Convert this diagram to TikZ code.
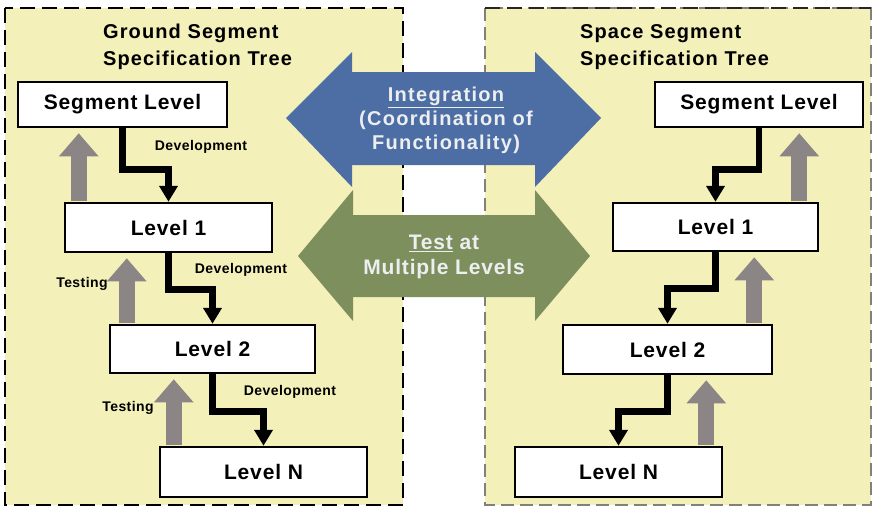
\documentclass[tikz,border=0pt]{standalone}
\usepackage{fontspec}
\setmainfont{Liberation Sans}
\usetikzlibrary{arrows.meta,calc}

\definecolor{panelfill}{RGB}{243,240,186}
\definecolor{intblue}{RGB}{77,110,165}
\definecolor{testgreen}{RGB}{125,143,92}
\definecolor{testgray}{RGB}{140,133,133}
\definecolor{arrowtext}{RGB}{236,238,240}
\definecolor{rightedge}{RGB}{130,128,120}

\tikzset{
  levelbox/.style={draw=black, line width=2.5pt, fill=white, inner sep=0pt,
    font=\bfseries\fontsize{21}{24}\selectfont\addfontfeatures{LetterSpace=4}},
  titletext/.style={align=left, anchor=west, inner sep=0pt,
    font=\bfseries\fontsize{20}{27}\selectfont\addfontfeatures{LetterSpace=5.5}},
  smalllabel/.style={inner sep=0pt,
    font=\bfseries\fontsize{14}{16}\selectfont\addfontfeatures{LetterSpace=3}},
  devarrow/.style={draw=black, line width=6.5pt, line join=miter,
    -{Triangle[width=18pt,length=16pt]}},
  testarrow/.style={draw=testgray, line width=16pt,
    -{Triangle[width=38pt,length=23pt]}, shorten >=5pt, shorten <=1.2pt},
  bigarrowtext/.style={align=center, text=arrowtext, inner sep=0pt},
}

\begin{document}
\begin{tikzpicture}[x=1pt,y=-1pt]
\useasboundingbox (0,0) rectangle (874,509);

% the two specification-tree panels
\fill[panelfill] (5,8) rectangle (403,505);
\draw[black, line width=2.8pt, dash pattern=on 15pt off 7pt] (5,8) rectangle (403,505);
\fill[panelfill] (485,8) rectangle (871,505);
\draw[rightedge, line width=1.6pt, dash pattern=on 13pt off 6pt] (485,8) rectangle (871,505);
\draw[black!85, line width=2.6pt, dash pattern=on 15pt off 7pt] (485,8) -- (871,8);

% integration double arrow
\fill[intblue] (286,118) -- (352,52) -- (352,72) -- (535,72) -- (535,52) -- (601,118)
  -- (535,187) -- (535,165) -- (352,165) -- (352,187) -- cycle;
\node[bigarrowtext, font=\bfseries\fontsize{20}{24}\selectfont\addfontfeatures{LetterSpace=6.5}]
  (integ) at (446,120) {\underline{Integration}\\(Coordination of\\Functionality)};

% test double arrow
\fill[testgreen] (298,256) -- (353,190) -- (353,215) -- (535,215) -- (535,190) -- (590,256)
  -- (535,321) -- (535,297) -- (353,297) -- (353,321) -- cycle;
\node[bigarrowtext, font=\bfseries\fontsize{21}{25}\selectfont\addfontfeatures{LetterSpace=4}]
  (testml) at (444,257) {\underline{Test} at\\Multiple Levels};

% panel titles
\node[titletext] (gtitle) at (103,47) {Ground Segment\\Specification Tree};
\node[titletext] (stitle) at (580,47) {Space Segment\\Specification Tree};

% ground segment tree
\node[levelbox, minimum width=209pt, minimum height=45pt] (segL) at (122.5,104.5) {Segment Level};
\node[levelbox, minimum width=207pt, minimum height=49pt] (lvl1L) at (168.5,227.5) {Level 1};
\node[levelbox, minimum width=205pt, minimum height=48pt] (lvl2L) at (212.5,349) {Level 2};
\node[levelbox, minimum width=207pt, minimum height=50pt] (lvlNL) at (263.5,472) {Level N};

% space segment tree
\node[levelbox, minimum width=208pt, minimum height=45pt] (segR) at (759,104.5) {Segment Level};
\node[levelbox, minimum width=205pt, minimum height=48pt] (lvl1R) at (715.5,227) {Level 1};
\node[levelbox, minimum width=209pt, minimum height=49pt] (lvl2R) at (667.5,349.5) {Level 2};
\node[levelbox, minimum width=207pt, minimum height=50pt] (lvlNR) at (618.5,472) {Level N};

% development (downward) connectors
\draw[devarrow] (segL.south) -- ++(0,41) -| (lvl1L.north);
\draw[devarrow] (lvl1L.south) -- ++(0,36) -| (lvl2L.north);
\draw[devarrow] (lvl2L.south) -- ++(0,37) -| (lvlNL.north);
\draw[devarrow] (segR.south) -- ++(0,41) -| (lvl1R.north);
\draw[devarrow] (lvl1R.south) -- ++(0,36) -| (lvl2R.north);
\draw[devarrow] (lvl2R.south) -- ++(0,36) -| (lvlNR.north);

% testing (upward) connectors
\coordinate (t1L) at ($(lvl1L.north west)+(15,0)$);
\coordinate (t2L) at ($(lvl2L.north west)+(18,0)$);
\coordinate (tNL) at ($(lvlNL.north west)+(15,0)$);
\draw[testarrow] (t1L) -- (t1L |- segL.south);
\draw[testarrow] (t2L) -- (t2L |- lvl1L.south);
\draw[testarrow] (tNL) -- (tNL |- lvl2L.south);
\coordinate (t1R) at ($(lvl1R.north east)+(-20,0)$);
\coordinate (t2R) at ($(lvl2R.north east)+(-19,0)$);
\coordinate (tNR) at ($(lvlNR.north east)+(-17,0)$);
\draw[testarrow] (t1R) -- (t1R |- segR.south);
\draw[testarrow] (t2R) -- (t2R |- lvl1R.south);
\draw[testarrow] (tNR) -- (tNR |- lvl2R.south);

% connector labels
\node[smalllabel] (dev1) at (201,147) {Development};
\node[smalllabel] (dev2) at (241,270) {Development};
\node[smalllabel] (dev3) at (290,392) {Development};
\node[smalllabel] (tst1) at (82,284) {Testing};
\node[smalllabel] (tst2) at (128,408) {Testing};
\end{tikzpicture}
\end{document}
